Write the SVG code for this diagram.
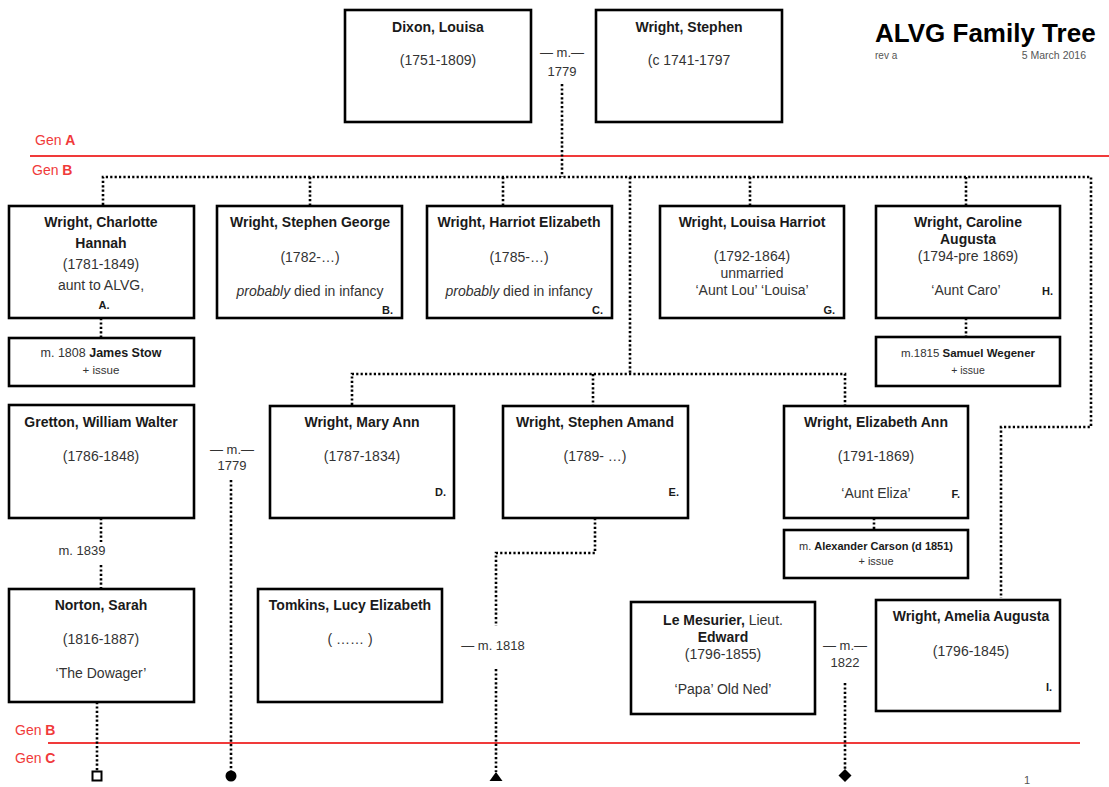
<svg xmlns="http://www.w3.org/2000/svg" width="1109" height="787" viewBox="0 0 1109 787">
<style>
text{font-family:"Liberation Sans",Arial,sans-serif;fill:#333;font-size:14px}
.c{text-anchor:middle}
.e{text-anchor:end}
.b{font-weight:bold;fill:#1a1a1a}
.box{fill:#fff;stroke:#000;stroke-width:2.6}
.dot{fill:none;stroke:#000;stroke-width:2.6;stroke-dasharray:2.2 2.2}
.red{stroke:#f03a3a;stroke-width:2.2}
.gen{fill:#f03a3a;font-size:14px}
.sm{font-size:12.5px}
.xs{font-size:11.5px}
.lt{font-size:11px;font-weight:bold;fill:#1a1a1a}
</style>

<g id="title">
<text x="875" y="42" class="b" style="font-size:26px;fill:#000">ALVG Family Tree</text>
<text x="875" y="59" style="font-size:10px;fill:#555">rev a</text>
<text x="1086" y="59" class="e" style="font-size:10.5px;fill:#555">5 March 2016</text>
</g>

<g id="generations">
<line class="red" x1="30" y1="156" x2="1109" y2="156"/>
<text class="gen" x="35" y="145">Gen <tspan font-weight="bold">A</tspan></text>
<text class="gen" x="32" y="175">Gen <tspan font-weight="bold">B</tspan></text>
<line class="red" x1="48" y1="743" x2="1080" y2="743"/>
<text class="gen" x="15" y="735">Gen <tspan font-weight="bold">B</tspan></text>
<text class="gen" x="15" y="763">Gen <tspan font-weight="bold">C</tspan></text>
</g>

<g id="connectors">
<path class="dot" d="M562 84V177"/>
<path class="dot" d="M103 205V177H1091V427H1001V598"/>
<path class="dot" d="M310 177V205M503 177V205M750 177V205M966 177V205"/>
<path class="dot" d="M630 177V374"/>
<path class="dot" d="M352 405V374H845V405M593 374V405"/>
<path class="dot" d="M101 318V338M966 318V337M874 518V530"/>
<path class="dot" d="M101 518V542M101 565V589"/>
<path class="dot" d="M595 518V553H496V626M496 669V772"/>
<path class="dot" d="M231 480V772"/>
<path class="dot" d="M97 702V771"/>
<path class="dot" d="M845 683V770"/>
<rect x="92.5" y="771.5" width="9" height="9" fill="#fff" stroke="#000" stroke-width="2"/>
<circle cx="231" cy="776" r="5.5" fill="#000"/>
<path d="M496 772L502.5 781H489.5Z" fill="#000"/>
<path d="M845 769L851.5 775.5L845 782L838.5 775.5Z" fill="#000"/>
<text x="562" y="57" class="c" style="font-size:13px">— m.—</text>
<text x="562" y="76" class="c" style="font-size:13px">1779</text>
<text x="232" y="454" class="c" style="font-size:13px">— m.—</text>
<text x="232" y="470" class="c" style="font-size:13px">1779</text>
<text x="82" y="555" class="c" style="font-size:13px">m. 1839</text>
<text x="493" y="650" class="c" style="font-size:13px">— m. 1818</text>
<text x="845" y="650" class="c" style="font-size:13px">— m.—</text>
<text x="845" y="667" class="c" style="font-size:13px">1822</text>
</g>

<g id="dixon-louisa">
<rect class="box" x="345" y="10" width="186" height="112"/>
<text x="438" y="32" class="c b">Dixon, Louisa</text>
<text x="438" y="65" class="c">(1751-1809)</text>
</g>
<g id="wright-stephen">
<rect class="box" x="596" y="10" width="186" height="112"/>
<text x="689" y="32" class="c b">Wright, Stephen</text>
<text x="689" y="65" class="c">(c 1741-1797</text>
</g>

<g id="wright-charlotte-hannah">
<rect class="box" x="9" y="206" width="185" height="112"/>
<text x="101" y="227" class="c b">Wright, Charlotte</text>
<text x="101" y="248" class="c b">Hannah</text>
<text x="101" y="269" class="c">(1781-1849)</text>
<text x="101" y="290" class="c">aunt to ALVG,</text>
<text x="104" y="309" class="c lt">A.</text>
</g>
<g id="james-stow">
<rect class="box" x="9" y="338" width="185" height="48"/>
<text x="101" y="357" class="c sm">m. 1808 <tspan class="b">James Stow</tspan></text>
<text x="101" y="374" class="c xs">+  issue</text>
</g>

<g id="wright-stephen-george">
<rect class="box" x="217" y="206" width="185" height="112"/>
<text x="310" y="227" class="c b">Wright, Stephen George</text>
<text x="310" y="262" class="c">(1782-…)</text>
<text x="310" y="296" class="c"><tspan font-style="italic">probably</tspan> died in infancy</text>
<text x="393" y="314" class="e lt">B.</text>
</g>

<g id="wright-harriot-elizabeth">
<rect class="box" x="427" y="206" width="185" height="112"/>
<text x="519" y="227" class="c b">Wright, Harriot Elizabeth</text>
<text x="519" y="262" class="c">(1785-…)</text>
<text x="519" y="296" class="c"><tspan font-style="italic">probably</tspan> died in infancy</text>
<text x="603" y="314" class="e lt">C.</text>
</g>

<g id="wright-louisa-harriot">
<rect class="box" x="660" y="206" width="184" height="112"/>
<text x="752" y="227" class="c b">Wright, Louisa Harriot</text>
<text x="752" y="261" class="c">(1792-1864)</text>
<text x="752" y="278" class="c">unmarried</text>
<text x="752" y="295" class="c">‘Aunt Lou’ ‘Louisa’</text>
<text x="835" y="314" class="e lt">G.</text>
</g>

<g id="wright-caroline-augusta">
<rect class="box" x="876" y="206" width="184" height="112"/>
<text x="968" y="227" class="c b">Wright, Caroline</text>
<text x="968" y="244" class="c b">Augusta</text>
<text x="968" y="261" class="c">(1794-pre 1869)</text>
<text x="966" y="295" class="c">‘Aunt Caro’</text>
<text x="1053" y="295" class="e lt">H.</text>
</g>
<g id="samuel-wegener">
<rect class="box" x="876" y="337" width="184" height="49"/>
<text x="968" y="357" class="c xs">m.1815 <tspan class="b">Samuel Wegener</tspan></text>
<text x="968" y="374" class="c" style="font-size:10.5px">+ issue</text>
</g>

<g id="gretton-william-walter">
<rect class="box" x="9" y="405" width="185" height="113"/>
<text x="101" y="427" class="c b">Gretton, William Walter</text>
<text x="101" y="461" class="c">(1786-1848)</text>
</g>

<g id="wright-mary-ann">
<rect class="box" x="270" y="406" width="184" height="112"/>
<text x="362" y="427" class="c b">Wright, Mary Ann</text>
<text x="362" y="461" class="c">(1787-1834)</text>
<text x="446" y="496" class="e lt">D.</text>
</g>

<g id="wright-stephen-amand">
<rect class="box" x="503" y="406" width="185" height="112"/>
<text x="595" y="427" class="c b">Wright, Stephen Amand</text>
<text x="595" y="461" class="c">(1789- …)</text>
<text x="679" y="496" class="e lt">E.</text>
</g>

<g id="wright-elizabeth-ann">
<rect class="box" x="784" y="406" width="184" height="112"/>
<text x="876" y="427" class="c b">Wright, Elizabeth Ann</text>
<text x="876" y="461" class="c">(1791-1869)</text>
<text x="876" y="498" class="c">‘Aunt Eliza’</text>
<text x="960" y="498" class="e lt">F.</text>
</g>
<g id="alexander-carson">
<rect class="box" x="784" y="530" width="184" height="48"/>
<text x="876" y="550" class="c" style="font-size:11px">m. <tspan class="b">Alexander Carson (d 1851)</tspan></text>
<text x="876" y="565" class="c" style="font-size:11px">+ issue</text>
</g>

<g id="norton-sarah">
<rect class="box" x="9" y="589" width="185" height="113"/>
<text x="101" y="610" class="c b">Norton, Sarah</text>
<text x="101" y="644" class="c">(1816-1887)</text>
<text x="101" y="678" class="c">‘The Dowager’</text>
</g>

<g id="tomkins-lucy-elizabeth">
<rect class="box" x="258" y="589" width="184" height="113"/>
<text x="350" y="610" class="c b">Tomkins, Lucy Elizabeth</text>
<text x="350" y="644" class="c">(  ……  )</text>
</g>

<g id="le-mesurier-edward">
<rect class="box" x="631" y="602" width="184" height="112"/>
<text x="723" y="625" class="c"><tspan class="b">Le Mesurier,</tspan> Lieut.</text>
<text x="723" y="642" class="c b">Edward</text>
<text x="723" y="659" class="c">(1796-1855)</text>
<text x="723" y="694" class="c">‘Papa’ Old Ned’</text>
</g>

<g id="wright-amelia-augusta">
<rect class="box" x="876" y="600" width="184" height="111"/>
<text x="971" y="621" class="c b">Wright, Amelia Augusta</text>
<text x="971" y="656" class="c">(1796-1845)</text>
<text x="1052" y="691" class="e lt">I.</text>
</g>

<text x="1024" y="784" style="font-size:11px;fill:#555">1</text>
</svg>
